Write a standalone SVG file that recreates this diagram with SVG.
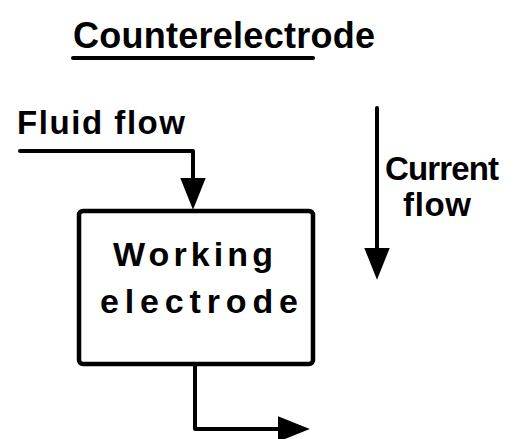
<svg xmlns="http://www.w3.org/2000/svg" width="516" height="439" viewBox="0 0 516 439">
<style>
  .lbl { font-family: "Liberation Sans", Arial, sans-serif; font-weight: bold; fill: #000; }
  .ln { fill: none; stroke: #000; stroke-width: 4; stroke-linecap: round; stroke-linejoin: round; }
  .box { fill: #fff; stroke: #000; stroke-width: 4.5; }
</style>
<defs>
  <marker id="ah" markerUnits="userSpaceOnUse" markerWidth="32" markerHeight="26" viewBox="0 0 30 24" refX="18" refY="12" orient="auto">
    <path d="M0,0 L30,12 L0,24 z" fill="#000"/>
  </marker>
</defs>
<rect width="516" height="439" fill="#fff"/>
<g id="title">
  <text class="lbl" x="73" y="48" font-size="36" textLength="302" lengthAdjust="spacing">Counterelectrode</text>
  <line class="ln" x1="73" y1="58" x2="313" y2="58" stroke-width="4.5"/>
</g>
<g id="fluid-flow-label">
  <text class="lbl" x="17" y="134" font-size="33" textLength="168" lengthAdjust="spacing">Fluid flow</text>
</g>
<g id="current-flow-label">
  <text class="lbl" x="385" y="180" font-size="33" textLength="114" lengthAdjust="spacing">Current</text>
  <text class="lbl" x="403" y="216" font-size="33" textLength="68" lengthAdjust="spacing">flow</text>
</g>
<g id="working-electrode">
  <rect class="box" x="79" y="211" width="234" height="153" rx="4"/>
  <text class="lbl" x="113" y="266" font-size="34" textLength="160" lengthAdjust="spacing">Working</text>
  <text class="lbl" x="100" y="313" font-size="34" textLength="198" lengthAdjust="spacing">electrode</text>
</g>
<g id="connectors">
  <path class="ln" d="M20,151 L193,151 L193,197" marker-end="url(#ah)"/>
  <path class="ln" d="M377,108 L377,267" marker-end="url(#ah)"/>
  <path class="ln" d="M195,366 L195,429 L297,429" marker-end="url(#ah)"/>
</g>
</svg>
